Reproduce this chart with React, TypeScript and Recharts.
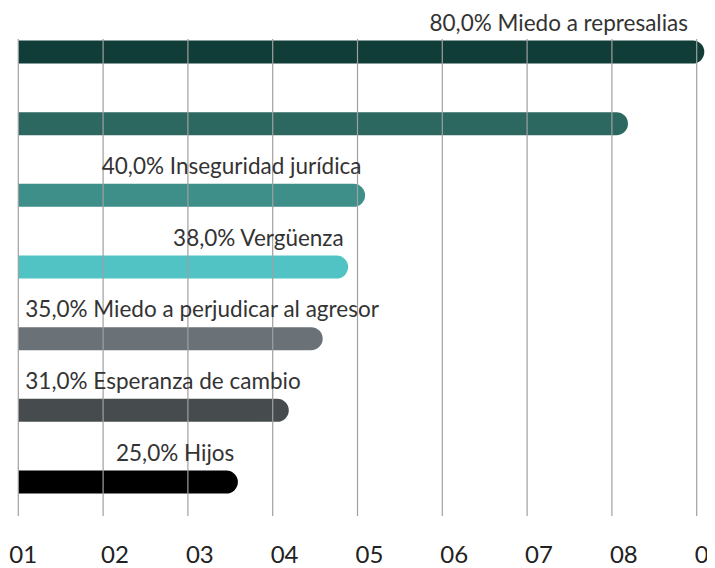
import React from 'react';
import { BarChart, Bar, XAxis, YAxis, CartesianGrid, Cell, LabelList, Rectangle } from 'recharts';

const categories = [
  'Miedo a represalias',
  '',
  'Inseguridad jurídica',
  'Vergüenza',
  'Miedo a perjudicar al agresor',
  'Esperanza de cambio',
  'Hijos',
];
const values = [80, 71, 40, 38, 35, 31, 25];
const colors = ['#103d37', '#2c6860', '#3e8f89', '#51c3c4', '#6a7177', '#464c4d', '#000000'];
const tickValues = [0, 10, 20, 30, 40, 50, 60, 70, 80];
const tickLabels = ['01', '02', '03', '04', '05', '06', '07', '08', '0'];

const data = categories.map((name, i) => ({ key: `c${i}`, name, value: values[i] }));

const FONT = 'Lato, "Noto Sans", sans-serif';
const LABEL_SIZE = 22.5;
const WEIGHT = 400;

let ctx: CanvasRenderingContext2D | null = null;
function measure(text: string, size: number): number {
  if (!ctx) {
    const c = document.createElement('canvas');
    ctx = c.getContext('2d');
  }
  if (!ctx) return text.length * size * 0.5;
  ctx.font = `${WEIGHT} ${size}px Lato`;
  return ctx.measureText(text).width;
}

const CAP_EXTEND = 7.6;

const BarShape = (props: any) => {
  const { x, y, width, height, fill } = props;
  const r = height / 2;
  return <Rectangle x={x} y={y} width={width + CAP_EXTEND} height={height} fill={fill} radius={[1, r, r, 1]} />;
};

const BarLabel = (props: any) => {
  const { x, y, width, index, value } = props;
  const name = categories[index];
  if (!name) return null;
  const text = `${Number(value).toFixed(1).replace('.', ',')}% ${name}`;
  const w = measure(text, LABEL_SIZE);
  const end = Math.min(x + width + 4, 680);
  let start = end - w;
  if (start < x + 7) start = x + 7;
  return (
    <text x={start} y={y - 10} textAnchor="start" fill="#333333" fontSize={LABEL_SIZE} fontWeight={WEIGHT} fontFamily={FONT}>
      {text}
    </text>
  );
};

const XTick = (props: any) => {
  const { x, y, index } = props;
  const dx = index === 0 ? -9 : -2;
  return (
    <text x={x + dx} y={y + 45} textAnchor="start" fill="#222222" fontSize={24} fontWeight={WEIGHT} fontFamily={FONT}>
      {tickLabels[index]}
    </text>
  );
};

export default function App() {
  return (
    <BarChart
      width={707}
      height={560}
      data={data}
      layout="vertical"
      margin={{ top: 8.5, right: 18.3, left: 10.3, bottom: 0 }}
      barSize={23}
    >
      <XAxis
        type="number"
        domain={[0, 80]}
        ticks={tickValues}
        axisLine={false}
        tickLine={false}
        tickSize={0}
        tickMargin={0}
        height={49.8}
        interval={0}
        tick={<XTick />}
      />
      <YAxis type="category" dataKey="key" hide />
      <Bar dataKey="value" isAnimationActive={false} shape={<BarShape />}>
        {data.map((d, i) => (
          <Cell key={d.key} fill={colors[i]} />
        ))}
        <LabelList dataKey="value" content={<BarLabel />} />
      </Bar>
      <CartesianGrid horizontal={false} stroke="#a0a0a0" strokeWidth={1.2} y={31} height={477} zIndex={1000} />
    </BarChart>
  );
}
